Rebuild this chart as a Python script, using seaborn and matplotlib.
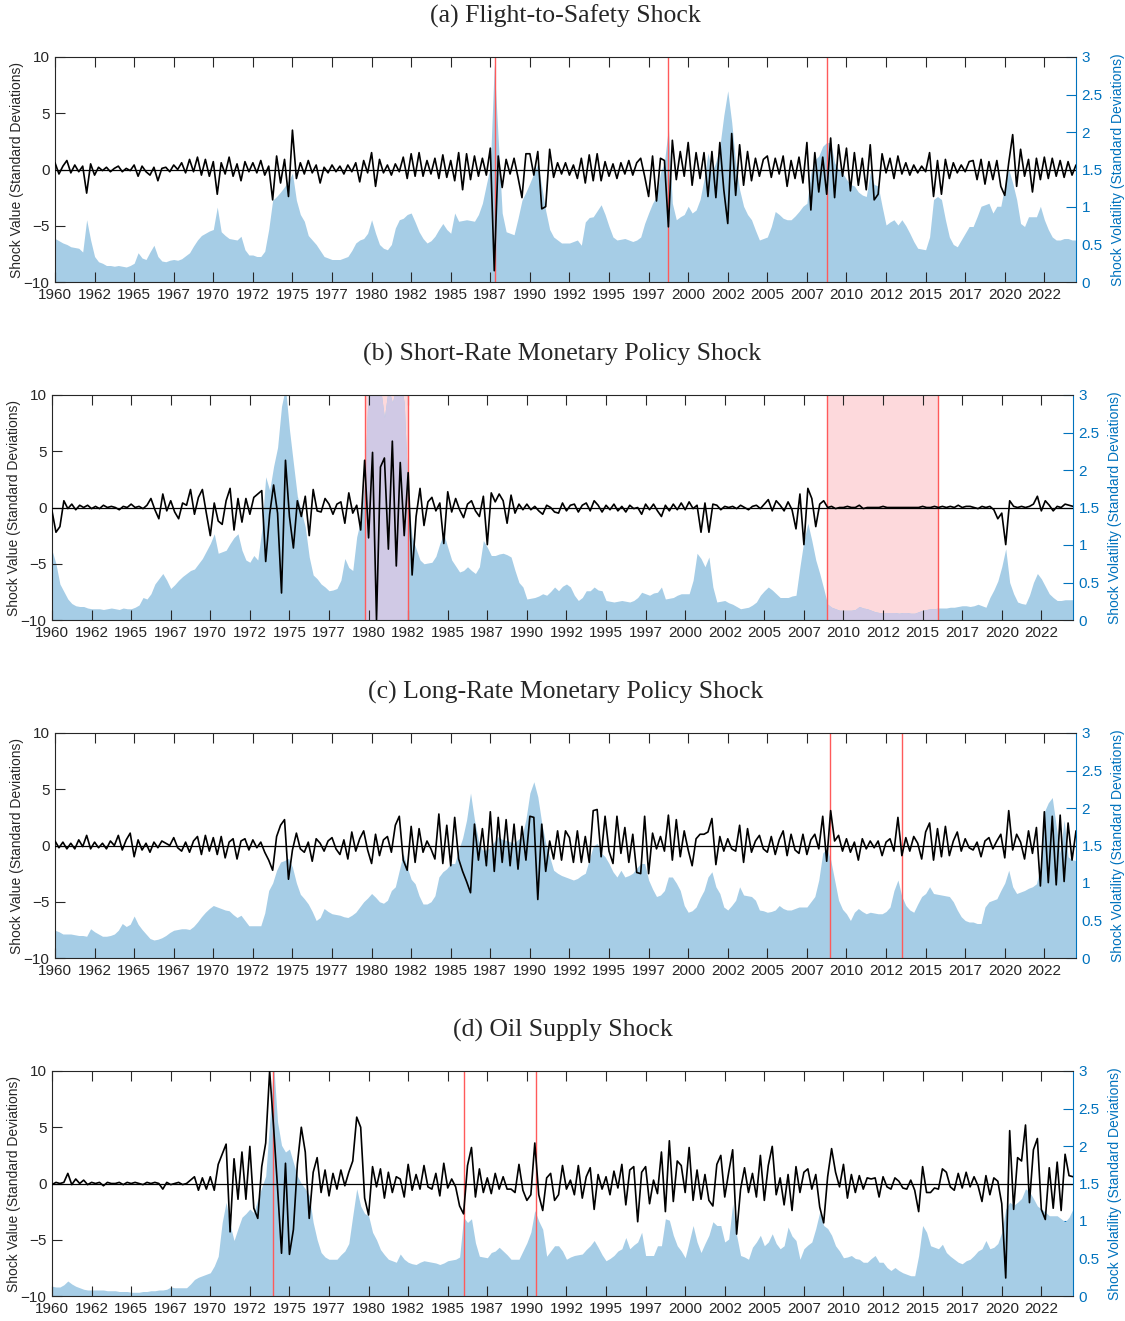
import numpy as np
import pandas as pd
import matplotlib
matplotlib.use("Agg")
import matplotlib.pyplot as plt
import seaborn as sns
from matplotlib.ticker import FormatStrFormatter
from matplotlib.patches import Rectangle

# Quarterly readings (1960Q1 .. 2024Q3).
# Shock values in standard deviations (left axis), volatility on the right axis.

shock_fts = [
    0.6, -0.4, 0.3, 0.8, -0.3, 0.4, -0.2, 0.3,      # 1960-61
    -2.1, 0.5, -0.5, 0.2, -0.1, 0.2, -0.2, 0.1,     # 1962-63
    0.3, -0.2, 0.1, -0.1, 0.4, -0.6, 0.3, -0.2,     # 1964-65
    -0.5, 0.2, -1.0, 0.1, 0.2, -0.2, 0.4, 0.0,      # 1966-67
    0.6, -0.3, 0.9, -0.2, 1.1, -0.5, 0.9, -0.6,     # 1968-69
    0.7, -2.2, 0.6, -0.4, 1.1, -0.6, 0.5, -1.0,     # 1970-71
    0.7, -0.2, 0.6, -0.3, 0.8, -0.5, 0.3, -2.7,     # 1972-73
    1.2, -1.2, 0.9, -2.4, 3.5, -0.8, 0.6, -0.4,     # 1974-75
    0.8, -0.3, 0.4, -1.2, 0.2, -0.3, 0.4, -0.2,     # 1976-77
    0.3, -0.4, 0.4, -0.2, 0.6, -1.1, 0.8, -0.3,     # 1978-79
    1.5, -1.5, 0.9, -0.3, 0.4, -0.5, 0.5, -0.2,     # 1980-81
    1.1, -0.8, 1.4, -0.6, 1.5, -0.6, 0.8, -0.4,     # 1982-83
    1.0, -0.8, 1.3, -0.7, 0.8, -1.0, 1.5, -1.8,     # 1984-85
    1.4, -0.9, 1.2, -0.6, 1.0, -0.5, 1.9, -9.0,     # 1986-87
    1.2, -1.6, 0.9, -0.4, 1.0, -0.7, -2.5, 1.4,     # 1988-89
    1.4, -0.5, 1.6, -3.5, -3.3, 1.8, -0.7, 0.6,     # 1990-91
    -0.4, 0.6, -0.5, 0.4, -0.8, 1.0, -1.2, 1.3,     # 1992-93
    -1.0, 1.4, -1.0, 0.7, -0.6, 0.5, -0.8, 0.6,     # 1994-95
    -0.4, 0.8, -0.5, 0.6, 1.0, -0.6, -2.4, 1.2,     # 1996-97
    -2.8, 1.0, 0.8, -5.1, 2.6, -0.9, 1.6, -0.6,     # 1998-99
    2.4, -1.4, 1.5, -0.8, 1.5, -2.4, 1.6, -2.5,     # 2000-01
    2.4, -1.8, -4.8, 3.2, -2.3, 2.2, -1.4, 1.6,     # 2002-03
    -1.0, 1.0, -0.6, 0.9, 1.2, -0.7, 1.0, -0.4,     # 2004-05
    1.2, -1.5, 0.8, -0.8, 1.1, -1.2, 2.4, -3.6,     # 2006-07
    1.5, -2.0, 1.1, -2.2, 2.8, -2.5, 2.2, -0.6,     # 2008-09
    1.9, -1.9, 1.5, -1.4, 1.0, -1.8, 2.2, -2.7,     # 2010-11
    -2.2, 1.4, -0.3, 1.0, -0.8, 1.2, -0.4, 0.6,     # 2012-13
    -0.5, 0.4, -0.3, 0.3, -0.2, 1.5, -2.4, 0.8,     # 2014-15
    -2.2, 0.9, -0.8, 0.6, -0.3, 0.4, -0.2, 0.7,     # 2016-17
    0.8, -0.9, 0.9, -1.3, 0.7, -0.9, 0.8, -1.5,     # 2018-19
    -2.3, 0.6, 3.1, -1.5, 1.8, -0.6, 0.9, -2.0,     # 2020-21
    1.0, -0.9, 1.1, -0.8, 1.0, -0.6, 0.8, -0.7,     # 2022-23
    0.7, -0.5, 0.4,                                 # 2024
]
vol_fts = [
    0.58, 0.55, 0.52, 0.50, 0.47, 0.46, 0.45, 0.40,
    0.83, 0.56, 0.34, 0.27, 0.25, 0.22, 0.22, 0.21,
    0.22, 0.21, 0.20, 0.22, 0.25, 0.39, 0.32, 0.30,
    0.40, 0.49, 0.34, 0.28, 0.27, 0.29, 0.30, 0.29,
    0.31, 0.35, 0.39, 0.48, 0.56, 0.62, 0.65, 0.68,
    0.70, 1.00, 0.67, 0.62, 0.58, 0.57, 0.56, 0.61,
    0.43, 0.36, 0.36, 0.34, 0.34, 0.41, 0.70, 1.09,
    1.14, 1.20, 1.27, 1.35, 1.45, 1.09, 0.90, 0.81,
    0.62, 0.56, 0.50, 0.42, 0.34, 0.32, 0.30, 0.30,
    0.30, 0.32, 0.34, 0.42, 0.52, 0.56, 0.58, 0.65,
    0.83, 0.65, 0.50, 0.45, 0.43, 0.50, 0.72, 0.83,
    0.85, 0.90, 0.92, 0.80, 0.67, 0.58, 0.52, 0.55,
    0.61, 0.70, 0.78, 0.70, 0.65, 0.92, 0.81, 0.82,
    0.83, 0.82, 0.81, 0.90, 1.05, 1.30, 1.54, 2.90,
    1.90, 0.92, 0.67, 0.65, 0.63, 0.85, 1.09, 1.20,
    1.32, 1.45, 1.58, 1.27, 0.95, 0.70, 0.60, 0.56,
    0.52, 0.52, 0.52, 0.54, 0.56, 0.49, 0.80, 0.86,
    0.87, 0.95, 1.03, 0.90, 0.74, 0.60, 0.56, 0.57,
    0.58, 0.56, 0.54, 0.56, 0.60, 0.78, 0.92, 1.05,
    1.14, 1.46, 1.60, 2.06, 1.05, 0.83, 0.87, 0.90,
    1.01, 0.92, 0.96, 1.10, 1.37, 1.72, 1.46, 1.60,
    1.81, 2.22, 2.55, 2.13, 1.59, 1.23, 1.01, 0.90,
    0.83, 0.69, 0.56, 0.58, 0.60, 0.74, 0.94, 0.90,
    0.85, 0.83, 0.83, 0.88, 0.94, 1.01, 1.05, 1.46,
    1.63, 1.68, 1.81, 1.86, 1.86, 1.59, 1.50, 1.45,
    1.37, 1.30, 1.28, 1.20, 1.16, 1.14, 1.46, 1.30,
    1.28, 1.01, 0.76, 0.80, 0.83, 0.76, 0.83, 0.75,
    0.65, 0.54, 0.45, 0.44, 0.43, 0.60, 1.10, 1.14,
    1.10, 0.83, 0.60, 0.50, 0.47, 0.56, 0.65, 0.74,
    0.74, 0.87, 1.01, 1.03, 1.05, 0.92, 1.01, 1.01,
    1.28, 1.50, 1.32, 1.10, 0.78, 0.74, 0.87, 0.87,
    0.87, 1.01, 0.83, 0.70, 0.60, 0.56, 0.56, 0.58,
    0.58, 0.56, 0.56,
]

shock_sr = [
    -0.3, -2.2, -1.7, 0.6, -0.1, 0.3, -0.2, 0.2,
    0.0, 0.2, -0.1, 0.1, -0.1, 0.2, 0.0, 0.1,
    0.0, -0.2, 0.1, 0.0, 0.3, 0.0, 0.1, -0.1,
    0.2, 0.8, -0.2, -1.0, 1.2, -0.3, 0.6, -0.4,
    -1.0, 0.4, 0.2, 1.6, -0.6, 0.9, 1.6, -0.5,
    -2.5, 0.4, -1.2, -1.5, 0.6, 1.7, -2.0, 0.8,
    -1.3, 0.8, -0.6, 0.9, 1.2, 1.5, -4.8, -0.6,
    2.0, -0.5, -7.6, 4.2, -0.8, -3.6, 0.6, -0.8,
    1.0, -2.5, 1.6, -0.3, -0.4, 0.8, 0.3, -0.6,
    0.3, 0.5, -1.4, 1.3, -0.5, 0.2, -2.0, 4.2,
    -2.7, 4.9, -10.0, 3.6, 4.4, -3.7, 5.9, -5.2,
    4.0, -2.5, 3.1, -6.0, -0.8, 1.7, -1.6, 0.5,
    0.9, -0.3, 0.4, -3.2, 1.4, -0.4, 0.8, -0.2,
    -0.9, 0.3, 0.6, -0.3, -0.8, 1.0, -3.3, 1.3,
    0.5, 1.2, 0.6, -1.4, 1.1, -0.5, 0.3, -0.2,
    0.3, -0.2, 0.1, -0.3, -0.6, 0.2, 0.0, -0.4,
    -0.5, 0.4, -0.3, 0.2, 0.3, -0.4, 0.2, 0.4,
    -0.3, 0.6, 0.2, -0.4, 0.2, -0.2, 0.3, -0.3,
    0.1, -0.4, 0.2, -0.1, 0.0, -0.6, 0.3, -0.2,
    0.3, -0.3, -0.8, 0.2, -0.3, 0.3, -0.2, 0.4,
    -0.2, 0.5, -0.1, 0.2, -2.2, 0.4, -2.2, 0.3,
    0.2, -0.2, 0.1, 0.0, 0.1, -0.1, 0.2, 0.0,
    -0.2, 0.1, 0.2, -0.1, 0.3, 0.7, -0.3, 0.6,
    0.2, -0.3, 0.5, -0.2, -1.9, 1.2, -3.3, 1.7,
    0.8, -1.7, 0.3, 0.6, 0.0, 0.1, -0.1, 0.0,
    0.0, 0.1, 0.0, 0.0, 0.2, -0.1, 0.0, 0.0,
    0.0, 0.0, 0.1, 0.0, 0.0, 0.0, 0.0, 0.0,
    0.0, 0.0, 0.0, 0.0, 0.1, 0.0, 0.0, 0.1,
    0.0, 0.1, 0.0, 0.1, 0.0, 0.2, 0.0, 0.1,
    0.1, 0.0, -0.1, 0.1, 0.0, 0.1, -0.2, -1.0,
    -0.5, -3.3, 0.6, 0.1, 0.0, 0.1, 0.0, 0.1,
    0.3, 1.0, -0.3, 0.6, 0.2, -0.3, 0.1, 0.0,
    0.3, 0.2, 0.1,
]
vol_sr = [
    0.93, 0.75, 0.48, 0.38, 0.28, 0.22, 0.19, 0.18,
    0.18, 0.16, 0.15, 0.15, 0.15, 0.14, 0.15, 0.16,
    0.15, 0.14, 0.16, 0.15, 0.15, 0.17, 0.20, 0.30,
    0.28, 0.35, 0.48, 0.55, 0.62, 0.53, 0.42, 0.47,
    0.53, 0.58, 0.62, 0.66, 0.68, 0.75, 0.82, 0.92,
    1.02, 1.15, 0.89, 0.91, 0.93, 1.02, 1.10, 1.15,
    0.93, 0.80, 0.77, 0.86, 0.80, 1.20, 1.91, 1.73,
    2.05, 2.30, 2.85, 3.10, 2.54, 2.09, 1.65, 1.45,
    1.24, 0.84, 0.60, 0.55, 0.48, 0.44, 0.39, 0.40,
    0.42, 0.53, 0.82, 0.70, 0.66, 1.11, 1.33, 1.87,
    3.20, 3.30, 3.20, 3.10, 2.70, 3.10, 2.90, 3.10,
    3.20, 2.90, 1.65, 1.11, 0.95, 0.80, 0.75, 0.76,
    0.77, 0.85, 1.02, 1.15, 0.97, 0.80, 0.72, 0.64,
    0.66, 0.71, 0.66, 0.62, 0.71, 1.06, 0.97, 0.86,
    0.86, 0.88, 0.89, 0.87, 0.84, 0.66, 0.50, 0.44,
    0.28, 0.29, 0.30, 0.32, 0.35, 0.33, 0.38, 0.44,
    0.39, 0.45, 0.48, 0.44, 0.33, 0.26, 0.30, 0.39,
    0.39, 0.44, 0.40, 0.39, 0.26, 0.25, 0.24, 0.25,
    0.26, 0.25, 0.24, 0.26, 0.30, 0.37, 0.35, 0.33,
    0.36, 0.37, 0.44, 0.28, 0.29, 0.30, 0.33, 0.35,
    0.35, 0.35, 0.53, 0.89, 0.82, 0.71, 0.84, 0.44,
    0.24, 0.25, 0.26, 0.23, 0.21, 0.18, 0.15, 0.16,
    0.17, 0.20, 0.24, 0.33, 0.39, 0.44, 0.40, 0.35,
    0.30, 0.30, 0.30, 0.32, 0.33, 0.71, 1.06, 1.29,
    1.06, 0.80, 0.62, 0.42, 0.21, 0.17, 0.15, 0.13,
    0.13, 0.13, 0.13, 0.14, 0.18, 0.16, 0.15, 0.13,
    0.11, 0.10, 0.10, 0.10, 0.10, 0.10, 0.09, 0.10,
    0.10, 0.09, 0.09, 0.11, 0.13, 0.14, 0.15, 0.15,
    0.16, 0.16, 0.16, 0.17, 0.17, 0.18, 0.19, 0.19,
    0.18, 0.19, 0.21, 0.19, 0.17, 0.30, 0.40, 0.52,
    0.71, 0.95, 0.50, 0.35, 0.24, 0.22, 0.21, 0.33,
    0.50, 0.62, 0.55, 0.45, 0.35, 0.30, 0.26, 0.26,
    0.27, 0.27, 0.27,
]

shock_lr = [
    0.4, -0.2, 0.3, -0.3, 0.2, -0.3, 0.5, -0.1,
    0.9, -0.3, 0.3, -0.2, 0.2, -0.3, 0.4, 0.0,
    0.9, -0.4, 0.5, 1.1, -1.0, 0.5, -0.4, 0.2,
    -0.6, 0.3, -0.2, 0.4, 0.2, 0.0, 0.7, -0.2,
    -0.5, 0.3, -0.6, 0.4, 0.8, -0.8, 0.9, -0.5,
    0.7, -0.8, 0.8, -1.1, 0.3, 0.6, -1.2, 0.4,
    0.6, -0.4, 0.5, -0.2, 0.3, -0.6, -1.3, -2.2,
    0.8, 1.8, 2.3, -3.0, -0.4, 1.1, -0.3, -0.6,
    0.3, -1.4, 0.6, 0.2, -0.5, 0.4, 0.7, -0.3,
    -0.8, 0.5, -1.2, 1.2, -0.5, 0.6, 1.3, -0.4,
    -1.6, 1.0, -0.9, 0.5, 0.8, -0.6, 1.8, 2.6,
    -1.3, -2.2, 1.7, -1.5, 1.5, -0.6, 0.4, -0.3,
    -1.2, 2.8, -1.6, 1.8, -1.8, 2.5, -1.2, -2.3,
    -3.2, -4.2, 1.9, -1.3, 1.5, -1.8, 3.0, -2.3,
    2.5, -1.5, 2.3, -1.8, 1.9, -2.1, 1.7, -1.3,
    2.6, 2.5, -4.8, 1.9, -2.3, 0.4, -1.2, 1.3,
    -1.3, 1.3, 0.7, -1.5, 1.3, -1.5, 0.8, -1.5,
    3.1, 3.2, -1.0, 2.6, -0.5, -1.6, 2.6, -0.7,
    1.6, -1.5, 1.0, -2.4, -2.5, 2.6, -2.5, 1.1,
    -0.3, 0.8, -0.5, 2.7, -1.3, 2.3, -1.0, 1.3,
    -0.4, -1.8, 0.6, 1.0, 1.0, 1.2, 2.4, -1.7,
    0.8, -0.5, 0.6, -0.3, -0.5, 1.8, -1.5, 1.5,
    -0.6, 0.4, 0.9, -0.3, -0.6, 0.8, -0.8, 0.5,
    1.3, -0.9, 1.0, -0.4, -0.7, 1.0, -0.8, 0.5,
    1.0, -0.3, 2.6, -1.4, 3.1, 0.4, 0.9, -0.5,
    0.6, -0.6, 0.3, -1.3, 0.6, -0.3, 0.4, -0.2,
    0.4, -0.9, 0.3, 0.6, -0.5, 2.5, -0.9, 0.7,
    -0.5, 0.8, 0.2, -1.2, 1.2, 2.0, -1.3, 1.5,
    -1.0, 1.7, -0.9, 0.4, 1.2, -0.5, 0.6, -0.2,
    -0.4, 0.3, -1.0, 0.4, 0.7, -0.3, 0.4, 1.0,
    -1.1, 3.1, -0.4, 1.0, 0.3, -1.2, 1.3, -0.7,
    1.6, -3.6, 3.0, -3.3, 2.6, -3.5, 2.7, -3.2,
    2.0, -1.3, 1.3,
]
vol_lr = [
    0.37, 0.35, 0.32, 0.32, 0.32, 0.31, 0.30, 0.30,
    0.29, 0.39, 0.35, 0.32, 0.29, 0.29, 0.30, 0.32,
    0.37, 0.46, 0.42, 0.45, 0.56, 0.45, 0.38, 0.32,
    0.26, 0.24, 0.25, 0.27, 0.30, 0.34, 0.37, 0.38,
    0.39, 0.39, 0.38, 0.42, 0.48, 0.55, 0.61, 0.66,
    0.70, 0.68, 0.66, 0.64, 0.63, 0.58, 0.54, 0.57,
    0.50, 0.43, 0.43, 0.43, 0.43, 0.60, 0.90, 1.00,
    1.17, 1.28, 1.30, 1.33, 1.21, 1.00, 0.85, 0.79,
    0.72, 0.62, 0.50, 0.54, 0.66, 0.62, 0.59, 0.58,
    0.57, 0.55, 0.54, 0.57, 0.61, 0.68, 0.75, 0.80,
    0.86, 0.81, 0.75, 0.73, 0.77, 0.90, 0.95, 1.17,
    1.39, 1.21, 1.05, 0.99, 0.83, 0.72, 0.72, 0.75,
    0.83, 1.08, 1.15, 1.19, 1.26, 1.26, 1.44, 1.60,
    1.84, 2.20, 1.84, 1.57, 1.44, 1.44, 1.48, 1.55,
    1.62, 1.58, 1.57, 1.55, 1.53, 1.58, 1.62, 1.85,
    2.20, 2.35, 2.15, 1.80, 1.53, 1.35, 1.17, 1.13,
    1.10, 1.08, 1.06, 1.04, 1.06, 1.10, 1.13, 1.31,
    1.49, 1.53, 1.40, 1.35, 1.26, 1.15, 1.08, 1.17,
    1.08, 1.10, 1.13, 1.20, 1.26, 1.26, 1.04, 0.92,
    0.82, 0.84, 0.90, 1.08, 1.08, 1.00, 0.90, 0.70,
    0.61, 0.63, 0.68, 0.80, 0.90, 1.08, 1.15, 0.95,
    0.86, 0.68, 0.64, 0.70, 0.77, 0.95, 0.84, 0.83,
    0.82, 0.77, 0.64, 0.63, 0.61, 0.62, 0.64, 0.70,
    0.66, 0.64, 0.64, 0.66, 0.68, 0.68, 0.68, 0.75,
    0.82, 1.04, 1.40, 1.46, 1.31, 1.04, 0.77, 0.65,
    0.59, 0.50, 0.61, 0.66, 0.62, 0.59, 0.61, 0.60,
    0.59, 0.59, 0.62, 0.68, 0.90, 1.04, 0.82, 0.70,
    0.64, 0.61, 0.72, 0.82, 0.86, 0.95, 0.86, 0.85,
    0.84, 0.83, 0.82, 0.75, 0.64, 0.55, 0.50, 0.48,
    0.48, 0.46, 0.46, 0.68, 0.75, 0.77, 0.79, 0.90,
    1.00, 1.17, 0.95, 0.86, 0.88, 0.90, 0.93, 0.95,
    0.99, 1.22, 1.95, 2.07, 2.14, 1.76, 1.40, 1.84,
    1.35, 1.31, 1.30,
]

shock_oil = [
    -0.1, 0.1, 0.0, 0.1, 0.9, -0.1, 0.4, 0.0,
    0.3, -0.1, 0.1, 0.0, 0.1, -0.2, 0.1, 0.0,
    0.0, 0.1, -0.1, 0.1, 0.0, 0.1, 0.0, -0.1,
    0.1, 0.0, 0.1, 0.0, -0.5, 0.1, -0.1, 0.0,
    0.1, -0.1, 0.0, 0.3, 0.6, -0.6, 0.5, -0.5,
    0.6, -0.6, 1.7, 2.6, 3.5, -4.3, 2.2, -1.4,
    2.8, -1.4, 3.3, -2.2, -3.1, 1.5, 3.6, 10.0,
    5.0, -0.4, -6.2, 1.8, -6.3, -4.1, 1.7, 5.0,
    2.8, -3.1, 1.0, 2.3, -0.8, 1.2, -1.1, 0.9,
    -0.5, 1.2, -0.2, 1.0, 2.0, 5.9, 5.0, -1.3,
    -2.8, 1.5, -0.3, 1.3, -1.3, 1.0, -0.8, 0.6,
    0.4, -1.2, 1.7, -0.6, 0.8, -0.5, 1.6, -0.3,
    -0.5, 0.9, -1.1, 1.8, -0.4, 0.4, -0.3, -2.0,
    -2.7, 1.6, 3.2, -1.2, 1.3, -0.8, 0.5, -0.9,
    0.9, -0.5, 0.6, -0.5, -0.5, -0.8, 1.7, -0.6,
    -1.5, -1.0, 3.6, -1.0, -2.4, 0.5, 0.9, -1.5,
    -1.0, 1.6, -0.5, 0.3, -1.0, 1.6, -1.3, 0.6,
    1.4, -2.3, 0.8, -0.5, 0.6, -1.0, 1.1, -0.4,
    1.7, -1.9, 1.2, 1.5, -3.4, 1.0, 1.5, -1.8,
    0.3, -0.9, 2.8, -2.5, 3.8, -1.6, 2.0, 1.6,
    -0.8, 3.2, -1.5, 1.2, -1.4, 0.8, -1.5, -2.0,
    1.7, 2.5, -1.2, 1.0, 3.0, -4.5, -0.5, 1.4,
    -0.8, 0.9, -1.2, 2.5, -1.5, 1.6, 3.3, -1.0,
    0.5, -1.9, 0.8, -2.4, 1.5, -0.8, 1.0, 1.3,
    -0.5, 0.8, -2.1, -3.5, 0.6, 3.1, 1.0, -0.3,
    1.7, -1.3, 0.8, -0.8, 0.7, -0.5, 0.5, 0.4,
    0.5, -1.2, 0.6, -0.3, -0.5, 0.5, 0.2, -0.4,
    -0.5, 0.3, -0.6, -2.5, 1.5, -0.8, -0.8, -0.4,
    -0.5, 1.3, 1.0, -0.3, -0.6, 0.9, -0.4, 1.0,
    -0.3, 0.6, -0.2, -1.6, 0.7, -1.0, 0.5, 0.2,
    -1.8, -8.4, 4.7, -2.3, 2.3, 2.0, 5.2, -1.7,
    3.0, 4.0, -2.3, -3.2, 1.4, -2.2, 1.9, -2.4,
    2.6, 0.7, 0.6,
]
vol_oil = [
    0.13, 0.12, 0.12, 0.15, 0.20, 0.16, 0.13, 0.11,
    0.09, 0.08, 0.08, 0.08, 0.08, 0.08, 0.07, 0.07,
    0.07, 0.06, 0.06, 0.06, 0.05, 0.05, 0.05, 0.06,
    0.06, 0.07, 0.07, 0.08, 0.08, 0.09, 0.12, 0.11,
    0.11, 0.11, 0.11, 0.16, 0.22, 0.25, 0.27, 0.29,
    0.31, 0.40, 0.53, 0.98, 1.25, 0.95, 0.74, 0.90,
    1.05, 1.10, 1.16, 1.11, 1.29, 1.45, 1.60, 2.32,
    3.10, 2.32, 2.01, 1.92, 1.96, 1.78, 1.60, 1.50,
    1.43, 1.34, 0.98, 0.75, 0.58, 0.52, 0.49, 0.49,
    0.49, 0.55, 0.60, 0.70, 1.07, 1.43, 1.20, 1.10,
    1.07, 0.85, 0.75, 0.62, 0.55, 0.49, 0.47, 0.45,
    0.56, 0.49, 0.45, 0.43, 0.42, 0.45, 0.47, 0.46,
    0.45, 0.44, 0.42, 0.44, 0.47, 0.48, 0.49, 0.52,
    1.05, 0.98, 1.03, 0.71, 0.53, 0.52, 0.51, 0.58,
    0.60, 0.65, 0.60, 0.55, 0.49, 0.49, 0.49, 0.60,
    0.71, 0.85, 1.14, 1.00, 0.89, 0.53, 0.60, 0.67,
    0.67, 0.60, 0.49, 0.52, 0.54, 0.55, 0.56, 0.62,
    0.67, 0.74, 0.65, 0.55, 0.47, 0.50, 0.54, 0.60,
    0.63, 0.78, 0.63, 0.68, 0.72, 0.85, 0.54, 0.54,
    0.54, 0.67, 0.67, 1.03, 1.01, 0.81, 0.67, 0.60,
    0.51, 0.72, 0.94, 0.72, 0.58, 0.70, 0.81, 0.99,
    0.94, 0.94, 0.72, 0.76, 1.23, 0.81, 0.54, 0.52,
    0.49, 0.65, 0.72, 0.81, 0.67, 0.72, 0.83, 0.70,
    0.63, 0.67, 0.92, 0.80, 0.74, 0.49, 0.63, 0.68,
    0.72, 0.90, 1.12, 0.94, 0.90, 0.81, 0.67, 0.60,
    0.51, 0.52, 0.54, 0.50, 0.49, 0.45, 0.45, 0.50,
    0.54, 0.45, 0.45, 0.38, 0.34, 0.38, 0.34, 0.31,
    0.29, 0.27, 0.27, 0.54, 0.94, 0.85, 0.67, 0.65,
    0.63, 0.69, 0.58, 0.53, 0.49, 0.45, 0.43, 0.47,
    0.49, 0.54, 0.60, 0.63, 0.74, 0.63, 0.65, 0.70,
    0.85, 1.16, 1.25, 1.21, 1.25, 1.30, 1.43, 1.39,
    1.30, 1.20, 1.16, 1.12, 1.07, 1.07, 1.07, 1.03,
    0.99, 1.05, 1.16,
]

titles = [
    "(a) Flight-to-Safety Shock",
    "(b) Short-Rate Monetary Policy Shock",
    "(c) Long-Rate Monetary Policy Shock",
    "(d) Oil Supply Shock",
]
# event dates (decimal years) marked by red vertical lines
events_fts = [1987.79, 1998.70, 2008.75]
events_sr = []
events_lr = [2008.96, 2013.50]
events_oil = [1973.95, 1986.00, 1990.60]
# shaded periods
spans_sr = [(1979.78, 1982.52), (2008.96, 2015.96)]

BLUE = "#0072BD"
AREA = "#a6cde6"
PINK = "#fdd9dc"
LAVENDER = "#d0c9e5"
RED = "#ff5a5a"
INK = "#262626"


def quarter_years(n):
    d = pd.date_range("1960-01-01", periods=n, freq="QS")
    return d.year + (d.month - 1) / 12.0


sns.set_style("ticks")
plt.rcParams["font.family"] = ["Liberation Sans", "DejaVu Sans"]

W, H = 1125, 1321
fig = plt.figure(figsize=(W / 100, H / 100), dpi=100)

panels = [
    (shock_fts, vol_fts, events_fts, []),
    (shock_sr, vol_sr, events_sr, spans_sr),
    (shock_lr, vol_lr, events_lr, []),
    (shock_oil, vol_oil, events_oil, []),
]
lefts = [55, 52, 55, 52]
tops = [57, 395, 733, 1071]
aw, ah = 1021, 225

xticks = [1960 + 2.5 * k for k in range(26)]

for i, (shock, vol, events, spans) in enumerate(panels):
    l, t = lefts[i], tops[i]
    ax = fig.add_axes([l / W, 1 - (t + ah) / H, aw / W, ah / H])
    ax2 = ax.twinx()
    ax.set_zorder(ax2.get_zorder() + 1)
    ax.patch.set_visible(False)

    df = pd.DataFrame({"year": quarter_years(len(shock)), "shock": shock})
    dv = pd.DataFrame({"year": quarter_years(len(vol)), "vol": vol})

    # shaded periods sit behind the volatility area
    for s0, s1 in spans:
        ax2.axvspan(s0, s1, color=PINK, lw=0, zorder=0.5)

    # volatility area on right axis
    ax2.fill_between(dv["year"], 0, dv["vol"], color=AREA, lw=0, zorder=1)

    # area inside shaded periods appears lavender
    for s0, s1 in spans:
        lav = ax2.fill_between(dv["year"], 0, dv["vol"], color=LAVENDER,
                               lw=0, zorder=1.5)
        lav.set_clip_path(Rectangle((s0, 0), s1 - s0, 3,
                                    transform=ax2.transData))

    for s0, s1 in spans:
        ax.axvline(s0, color=RED, lw=1.0, zorder=2)
        ax.axvline(s1, color=RED, lw=1.0, zorder=2)
    for e in events:
        ax.axvline(e, color=RED, lw=1.0, zorder=2)

    ax.axhline(0, color="black", lw=0.9, zorder=3)
    sns.lineplot(data=df, x="year", y="shock", color="black", lw=1.2,
                 ax=ax, zorder=4)

    ax.set_xlim(1960, 2024.5)
    ax.set_ylim(-10, 10)
    ax2.set_ylim(0, 3)

    ax.set_xticks(xticks)
    ax.set_xticklabels([str(int(x)) for x in xticks])
    ax.set_yticks([-10, -5, 0, 5, 10])
    ax2.set_yticks([0, 0.5, 1, 1.5, 2, 2.5, 3])
    ax2.yaxis.set_major_formatter(FormatStrFormatter("%g"))

    ax.tick_params(axis="x", direction="in", length=7, width=0.8, top=True,
                   labelsize=11, pad=4, colors=INK)
    ax.tick_params(axis="y", direction="in", length=7, width=0.8, right=False,
                   labelsize=11, pad=4, colors=INK)
    ax2.tick_params(axis="y", direction="in", length=7, width=0.8,
                    labelsize=11, pad=4, colors=BLUE)

    ax.set_xlabel("")
    ax.set_ylabel("Shock Value (Standard Deviations)", fontsize=10,
                  color=INK, labelpad=0)
    ax2.set_ylabel("Shock Volatility (Standard Deviations)", fontsize=10,
                   color=BLUE, labelpad=6)

    for side in ["left", "top", "bottom"]:
        ax.spines[side].set_color(INK)
        ax.spines[side].set_linewidth(0.8)
        ax.spines[side].set_visible(True)
    ax.spines["right"].set_visible(False)
    for side in ["left", "top", "bottom"]:
        ax2.spines[side].set_visible(False)
    ax2.spines["right"].set_visible(True)
    ax2.spines["right"].set_color(BLUE)
    ax2.spines["right"].set_linewidth(0.8)

    fig.text((l + aw / 2) / W, 1 - (t - 41) / H, titles[i], ha="center",
             va="center", fontsize=18.5, color=INK,
             family=["Liberation Serif", "DejaVu Serif"])

fig.savefig("out.png", dpi=100)
